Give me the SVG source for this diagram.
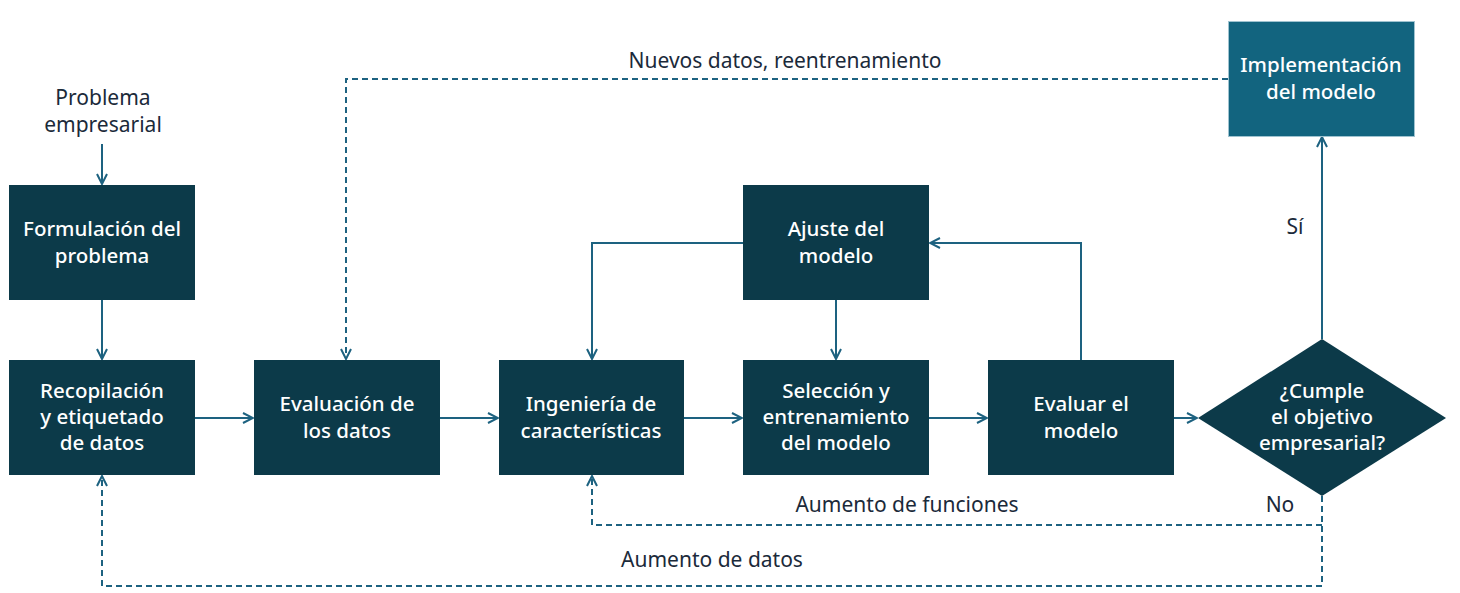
<svg xmlns="http://www.w3.org/2000/svg" width="1460" height="593" viewBox="0 0 1460 593">
<style>
.box{fill:#0c3a49;}
.impl{fill:#12647f;stroke:#9fc3d0;stroke-width:1;}
.bt{font-family:"Noto Sans","Open Sans",sans-serif;font-size:20.5px;font-weight:500;fill:#ffffff;text-anchor:middle;}
.lb{font-family:"Noto Sans","Open Sans",sans-serif;font-size:21px;fill:#1b2a3a;text-anchor:middle;}
.ln{fill:none;stroke:#1d6280;stroke-width:2;}
.dl{fill:none;stroke:#1d6280;stroke-width:2;stroke-dasharray:6 4;}
</style>
<defs>
<marker id="ah" viewBox="0 0 12 12" refX="11" refY="6" markerWidth="12" markerHeight="12" markerUnits="userSpaceOnUse" orient="auto">
<path d="M1,1 L11,6 L1,11" fill="none" stroke="#1d6280" stroke-width="2"/>
</marker>
</defs>
<rect width="1460" height="593" fill="#ffffff"/>
<g id="connectors">
<line class="ln" x1="102" y1="144" x2="102" y2="184" marker-end="url(#ah)"/>
<line class="ln" x1="102" y1="300" x2="102" y2="359" marker-end="url(#ah)"/>
<line class="ln" x1="195" y1="418" x2="253" y2="418" marker-end="url(#ah)"/>
<line class="ln" x1="440" y1="418" x2="498" y2="418" marker-end="url(#ah)"/>
<line class="ln" x1="684" y1="418" x2="742" y2="418" marker-end="url(#ah)"/>
<line class="ln" x1="929" y1="418" x2="987" y2="418" marker-end="url(#ah)"/>
<line class="ln" x1="1174" y1="418" x2="1197" y2="418" marker-end="url(#ah)"/>
<line class="ln" x1="1322" y1="339" x2="1322" y2="137" marker-end="url(#ah)"/>
<polyline class="ln" points="743,243 592,243 592,359" marker-end="url(#ah)"/>
<line class="ln" x1="836" y1="300" x2="836" y2="359" marker-end="url(#ah)"/>
<polyline class="ln" points="1081,360 1081,243 930,243" marker-end="url(#ah)"/>
<polyline class="dl" points="1228,79 346,79 346,359" marker-end="url(#ah)"/>
<polyline class="dl" points="1322,496 1322,586 102,586 102,476" marker-end="url(#ah)"/>
<polyline class="dl" points="1322,525 592,525 592,476" marker-end="url(#ah)"/>
<text class="lb" x="103" y="105">Problema</text>
<text class="lb" x="103" y="132">empresarial</text>
<text class="lb" x="785" y="68">Nuevos datos, reentrenamiento</text>
<text class="lb" x="1295" y="234">Sí</text>
<text class="lb" x="907" y="512">Aumento de funciones</text>
<text class="lb" x="1280" y="512">No</text>
<text class="lb" x="712" y="567">Aumento de datos</text>
</g>
<g id="formulacion">
<rect class="box" x="9" y="185" width="186" height="115"/>
<text class="bt" x="102" y="236">Formulación del</text>
<text class="bt" x="102" y="263">problema</text>
</g>
<g id="recopilacion">
<rect class="box" x="9" y="360" width="186" height="115"/>
<text class="bt" x="102" y="398">Recopilación</text>
<text class="bt" x="102" y="424">y etiquetado</text>
<text class="bt" x="102" y="450">de datos</text>
</g>
<g id="evaluacion">
<rect class="box" x="254" y="360" width="186" height="115"/>
<text class="bt" x="347" y="411">Evaluación de</text>
<text class="bt" x="347" y="438">los datos</text>
</g>
<g id="ingenieria">
<rect class="box" x="499" y="360" width="185" height="115"/>
<text class="bt" x="591" y="411">Ingeniería de</text>
<text class="bt" x="591" y="438">características</text>
</g>
<g id="ajuste">
<rect class="box" x="743" y="185" width="186" height="115"/>
<text class="bt" x="836" y="236">Ajuste del</text>
<text class="bt" x="836" y="263">modelo</text>
</g>
<g id="seleccion">
<rect class="box" x="743" y="360" width="186" height="115"/>
<text class="bt" x="836" y="398">Selección y</text>
<text class="bt" x="836" y="424">entrenamiento</text>
<text class="bt" x="836" y="450">del modelo</text>
</g>
<g id="evaluar">
<rect class="box" x="988" y="360" width="186" height="115"/>
<text class="bt" x="1081" y="411">Evaluar el</text>
<text class="bt" x="1081" y="438">modelo</text>
</g>
<g id="decision">
<polygon class="box" points="1322,339 1446,418 1322,496 1198,418"/>
<text class="bt" x="1322" y="398">¿Cumple</text>
<text class="bt" x="1322" y="424">el objetivo</text>
<text class="bt" x="1322" y="450">empresarial?</text>
</g>
<g id="implementacion">
<rect class="impl" x="1228.5" y="21.5" width="186" height="115"/>
<text class="bt" x="1321" y="72">Implementación</text>
<text class="bt" x="1321" y="99">del modelo</text>
</g>
</svg>
